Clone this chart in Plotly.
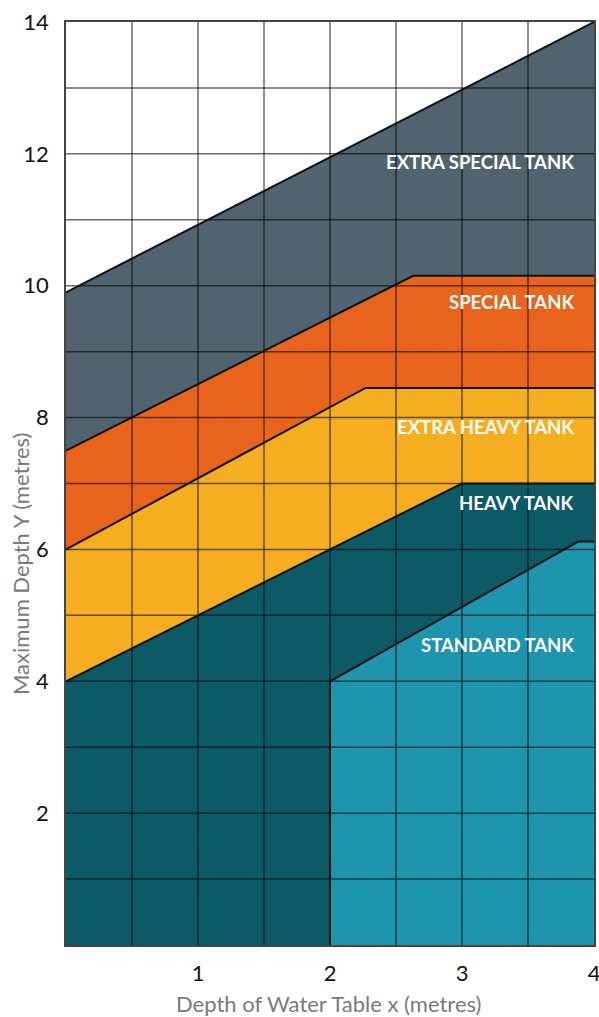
import numpy as np
import plotly.graph_objects as go

# Boundaries (top edge of each tank region), x = depth of water table, y = max depth
ext_special_x = [0, 4]
ext_special_y = [9.9, 14.0]
special_x = [0, 2.63, 4]
special_y = [7.5, 10.15, 10.15]
ext_heavy_x = [0, 2.27, 4]
ext_heavy_y = [6.0, 8.45, 8.45]
heavy_x = [0, 3.0, 4]
heavy_y = [4.0, 7.0, 7.0]
standard_x = [2, 2, 3.88, 4]
standard_y = [0, 4.0, 6.12, 6.12]

names = ["EXTRA SPECIAL TANK", "SPECIAL TANK", "EXTRA HEAVY TANK", "HEAVY TANK", "STANDARD TANK"]
colors = ["#50636e", "#e8631b", "#f5ae1f", "#0c5a66", "#1f94ad"]
label_y = [11.88, 9.76, 7.85, 6.71, 4.55]
label_x = 3.86

x_ticks = [1, 2, 3, 4]
y_ticks = [2, 4, 6, 8, 10, 12, 14]

regions = [
    (ext_special_x, ext_special_y),
    (special_x, special_y),
    (ext_heavy_x, ext_heavy_y),
    (heavy_x, heavy_y),
    (standard_x, standard_y),
]

fig = go.Figure()

for (bx, by), c, n in zip(regions, colors, names):
    px = list(bx) + [4, bx[0]]
    py = list(by) + [0, 0]
    fig.add_trace(go.Scatter(x=px, y=py, fill="toself", fillcolor=c, mode="lines",
                             line=dict(width=0, color=c), name=n, hoverinfo="skip",
                             showlegend=False))

# grid lines on top of fills
gx, gy = [], []
for v in np.arange(0.5, 4.0, 0.5):
    gx += [v, v, None]
    gy += [0, 14, None]
for h in range(1, 14):
    gx += [0, 4, None]
    gy += [h, h, None]
fig.add_trace(go.Scatter(x=gx, y=gy, mode="lines", line=dict(color="rgba(0,0,0,0.58)", width=1.5),
                         hoverinfo="skip", showlegend=False))

# boundary lines
for (bx, by) in regions:
    fig.add_trace(go.Scatter(x=bx, y=by, mode="lines", line=dict(color="#111111", width=2),
                             hoverinfo="skip", showlegend=False))

for n, ly in zip(names, label_y):
    fig.add_annotation(x=label_x, y=ly, text=n, showarrow=False, xanchor="right", yanchor="middle",
                       font=dict(family="Lato", size=18.5, color="white", weight="bold"))

fig.add_annotation(xref="paper", yref="paper", x=(328 - 66) / 528, y=-(1003 - 945) / 923,
                   text="Depth of Water Table x (metres)", showarrow=False,
                   xanchor="center", yanchor="middle",
                   font=dict(family="Lato", size=22, color="#7a7a7a"))
fig.add_annotation(xref="paper", yref="paper", x=-(66 - 20) / 528, y=(945 - 564) / 923,
                   text="Maximum Depth Y (metres)", showarrow=False, textangle=-90,
                   xanchor="center", yanchor="middle",
                   font=dict(family="Lato", size=22, color="#7a7a7a"))

fig.update_layout(
    width=599, height=1017,
    margin=dict(l=66, r=5, t=22, b=72),
    plot_bgcolor="white", paper_bgcolor="white",
    showlegend=False,
    font=dict(family="Lato", color="#111111"),
)
fig.update_xaxes(range=[0, 4], tickvals=x_ticks, ticktext=[str(t) for t in x_ticks],
                 showgrid=False, zeroline=False, showline=True, linecolor="#444444", linewidth=1.5,
                 mirror=True, ticks="", tickfont=dict(size=22, color="#111111"),
                 ticklabelstandoff=8, fixedrange=True, automargin=False,
                 ticklabeloverflow="allow")
fig.update_yaxes(range=[0, 14], tickvals=y_ticks, ticktext=[str(t) for t in y_ticks],
                 showgrid=False, zeroline=False, showline=True, linecolor="#444444", linewidth=1.5,
                 mirror=True, ticks="", tickfont=dict(size=22, color="#111111"),
                 ticklabelstandoff=11, fixedrange=True, automargin=False,
                 ticklabeloverflow="allow")

post = (
    "document.documentElement.style.margin='0';document.documentElement.style.overflow='hidden';"
    "document.body.style.margin='0';document.body.style.overflow='hidden';"
)
fig.write_html("out.html", config={"displayModeBar": False}, post_script=post)
